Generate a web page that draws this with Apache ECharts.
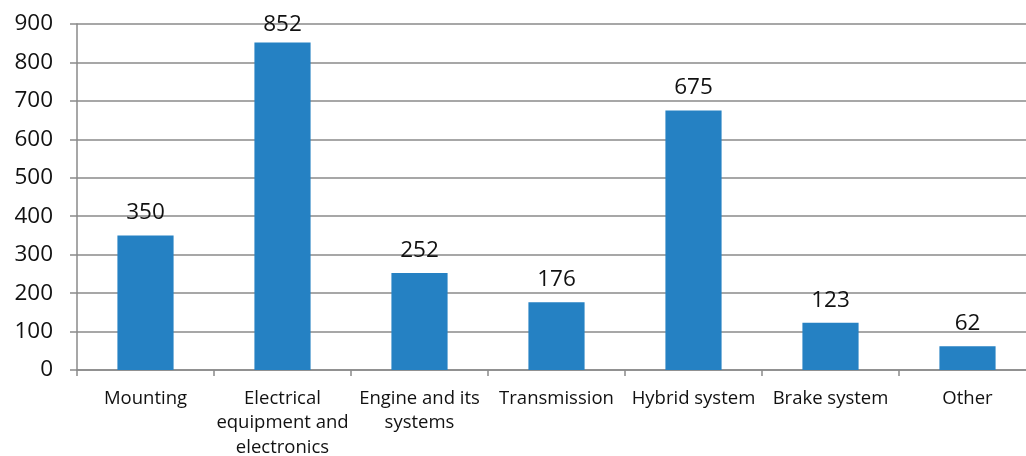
<!DOCTYPE html>
<html>
<head>
<meta charset="utf-8">
<script src="https://cdn.jsdelivr.net/npm/echarts@6/dist/echarts.min.js"></script>
<style>
  html, body { margin: 0; padding: 0; background: #fff; }
  #chart { width: 1026px; height: 456px; }
</style>
</head>
<body>
<div id="chart"></div>
<script>
// Failure counts by vehicle system
const categories = [
  'Mounting',
  'Electrical\nequipment and\nelectronics',
  'Engine and its\nsystems',
  'Transmission',
  'Hybrid system',
  'Brake system',
  'Other'
];
const counts = [350, 852, 252, 176, 675, 123, 62];
const yTicks = { min: 0, max: 900, interval: 100 };

const lineGray = '#8a8a8a';
const font = '"Open Sans", "Liberation Sans", sans-serif';

// labels sit a little higher above the bars, except where the bar reaches the top of the plot
const barData = counts.map(v => (
  v > 800 ? { value: v, label: { distance: 6 } } : v
));

const chart = echarts.init(document.getElementById('chart'));
chart.setOption({
  animation: false,
  grid: {
    left: 77, right: -10, top: 24, bottom: 86,
    containLabel: false,
    outerBoundsMode: 'none'
  },
  xAxis: {
    type: 'category',
    data: categories,
    boundaryGap: true,
    axisLine: { show: true, lineStyle: { color: lineGray, width: 1.5 } },
    axisTick: { show: true, length: 6, alignWithLabel: false, lineStyle: { color: lineGray, width: 1.5 } },
    axisLabel: {
      interval: 0,
      margin: 16,
      color: '#111',
      fontFamily: font,
      fontSize: 18.5,
      lineHeight: 24.5,
      align: 'center'
    }
  },
  yAxis: {
    type: 'value',
    min: yTicks.min,
    max: yTicks.max,
    interval: yTicks.interval,
    axisLine: { show: true, lineStyle: { color: lineGray, width: 1.5 } },
    axisTick: { show: true, length: 7, lineStyle: { color: lineGray, width: 1.5 } },
    splitLine: { show: true, lineStyle: { color: lineGray, width: 1.5 } },
    axisLabel: {
      margin: 24,
      color: '#111',
      fontFamily: font,
      fontSize: 22.5
    }
  },
  series: [{
    type: 'bar',
    data: barData,
    barWidth: '41%',
    itemStyle: { color: '#2581c3' },
    label: {
      show: true,
      position: 'top',
      distance: 11,
      color: '#111',
      fontFamily: font,
      fontSize: 22.5
    }
  }]
});
</script>
</body>
</html>
